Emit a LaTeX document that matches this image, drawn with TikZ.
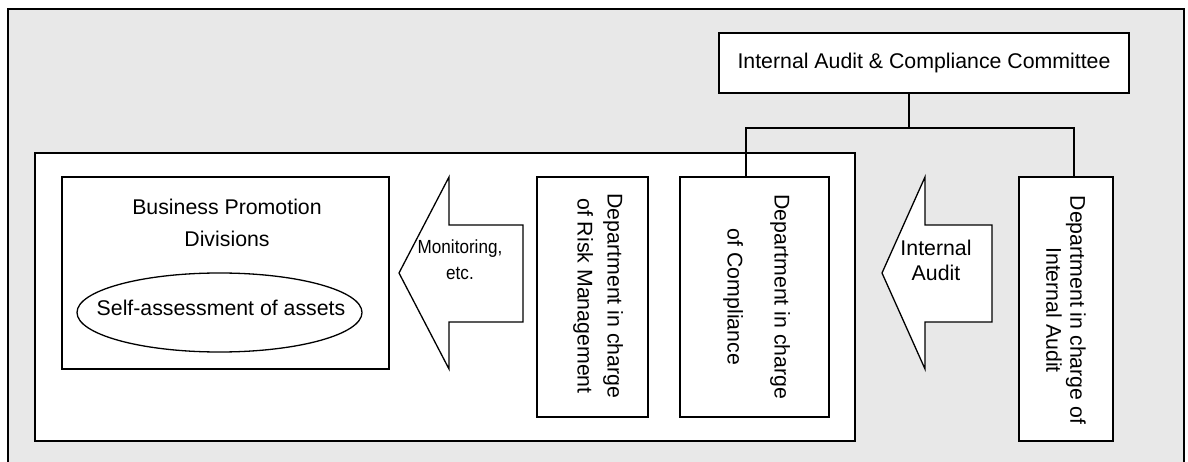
\documentclass[tikz,border=0pt]{standalone}
\usepackage{fontspec}
\setmainfont{Liberation Sans}
\usepackage{xcolor}
\usetikzlibrary{shapes,positioning,calc}
\definecolor{bggray}{HTML}{E8E8E8}

\begin{document}
\begin{tikzpicture}[x=1pt, y=-1pt, line width=1.3pt, font=\fontsize{21.3}{30}\selectfont]
  \tikzstyle{box}=[rectangle, draw, fill=white, inner sep=0pt]
  \tikzstyle{vtext}=[rotate=-90, align=center, inner sep=0pt]
  \tikzstyle{blockarrow}=[draw, fill=white, line join=miter]
  \useasboundingbox (0,0) rectangle (1188,462);

  % Fondo
  \draw[fill=bggray, line width=1.5pt] (8,9) rectangle (1184,470);
  \node[box, minimum width=820pt, minimum height=288pt] (inner) at (445,297) {};

  % Committee
  \node[box, minimum width=410pt, minimum height=60pt] (comm) at (924,63) {Internal Audit \& Compliance Committee};

  % Business Promotion Divisions
  \node[box, minimum width=327pt, minimum height=192pt] (bpd) at (225.5,273) {};
  \node[align=center, inner sep=0pt, font=\fontsize{21.3}{32}\selectfont] (bpdlbl) at (227,223) {Business Promotion\\Divisions};
  \node[ellipse, draw, inner sep=0pt, minimum width=285pt, minimum height=79pt] (self) at (219.5,312.5) {};
  \node[inner sep=0pt] (selflbl) at (221,308) {Self-assessment of assets};

  % Departments
  \node[box, minimum width=111pt, minimum height=240pt] (risk) at (592.5,297) {};
  \node[vtext] (risklbl) at (598,296) {Department in charge\\of Risk Management};
  \node[box, minimum width=149pt, minimum height=240pt] (comp) at (754.5,297) {};
  \node[vtext] (complbl) at (756.5,297) {Department in charge\\[17pt]of Compliance};
  \node[box, minimum width=94pt, minimum height=264pt] (iad) at (1066,309) {};
  \node[vtext, font=\fontsize{21.3}{24}\selectfont] (iadlbl) at (1066,310) {Department in charge of\\Internal Audit};

  % Arrows
  \draw[blockarrow] (523,225) -- (449,225) -- (449,177) -- (399,273) -- (449,369) -- (449,322) -- (523,322) -- cycle;
  \node[align=center, inner sep=0pt, xscale=0.9, font=\fontsize{19}{26}\selectfont] (mon) at (460,260) {Monitoring,\\etc.};
  \draw[blockarrow] (992,225) -- (925,225) -- (925,177) -- (882,273) -- (925,369) -- (925,322) -- (992,322) -- cycle;
  \node[align=center, inner sep=0pt, font=\fontsize{21.3}{25}\selectfont] (aud) at (936,260) {Internal\\Audit};

  % Connectors
  \coordinate (j) at (909,128);
  \coordinate (jl) at (746,128);
  \coordinate (jr) at (1074,128);
  \draw (j |- comm.south) -- (j);
  \draw (jl |- comp.north) -- (jl) -- (jr) -- (jr |- iad.north);
\end{tikzpicture}
\end{document}
